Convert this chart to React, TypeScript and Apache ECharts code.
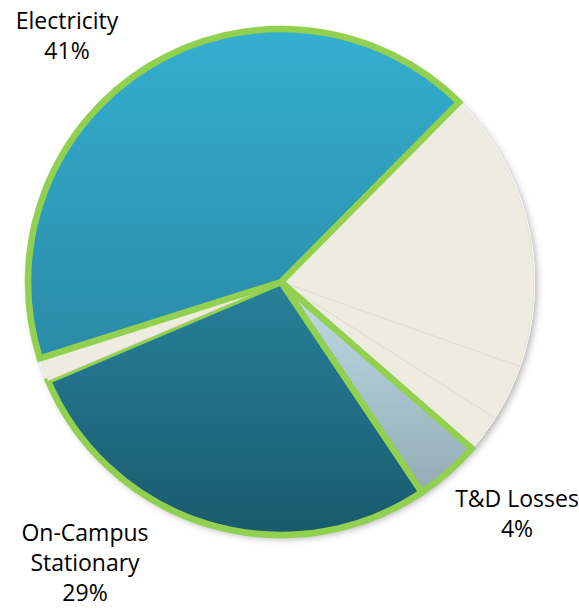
import React, { useEffect, useRef } from "react";
import * as echarts from "echarts";

// Slices listed clockwise, starting at the upper-right boundary of Electricity
const categories = [
  "Other 1",
  "Other 2",
  "Other 3",
  "T&D Losses",
  "On-Campus Stationary",
  "Other 4",
  "Electricity",
];
const values = [18.0, 3.6, 2.4, 4.2, 28.0, 1.5, 42.3];
const labelNames: Record<string, string> = {
  Electricity: "Electricity",
  "On-Campus Stationary": "On-Campus\nStationary",
  "T&D Losses": "T&D Losses",
};
const labelPercents: Record<string, string> = {
  Electricity: "41%",
  "On-Campus Stationary": "29%",
  "T&D Losses": "4%",
};

const GREEN = "#92d050";
const BEIGE = "#eeece1";

const labelPos: Record<string, [number, number]> = {
  Electricity: [67, 35],
  "On-Campus Stationary": [85, 562],
  "T&D Losses": [517, 513],
};

function styleFor(name: string) {
  if (name === "Electricity") {
    return {
      color: new echarts.graphic.LinearGradient(0, 0, 0, 1, [
        { offset: 0, color: "#34afd0" },
        { offset: 1, color: "#2a8aa7" },
      ]),
      borderColor: GREEN,
      borderWidth: 6.5,
      borderJoin: "miter",
    };
  }
  if (name === "On-Campus Stationary") {
    return {
      color: new echarts.graphic.LinearGradient(0, 0, 0, 1, [
        { offset: 0, color: "#27819a" },
        { offset: 1, color: "#195a6e" },
      ]),
      borderColor: GREEN,
      borderWidth: 6.5,
      borderJoin: "miter",
    };
  }
  if (name === "T&D Losses") {
    return {
      color: new echarts.graphic.LinearGradient(0, 0, 0, 1, [
        { offset: 0, color: "#c0dce7" },
        { offset: 1, color: "#93acb6" },
      ]),
      borderColor: GREEN,
      borderWidth: 6.5,
      borderJoin: "miter",
    };
  }
  return {
    color: BEIGE,
    borderColor: "#d6d4ca",
    borderWidth: 0.6,
  };
}

export default function App() {
  const ref = useRef<HTMLDivElement>(null);
  useEffect(() => {
    if (!ref.current) return;
    const chart = echarts.init(ref.current, undefined, { renderer: "svg" });
    const data = categories.map((name, i) => ({
      name,
      value: values[i],
      itemStyle: styleFor(name),
      label: labelNames[name]
        ? {
            show: true,
            formatter: labelNames[name] + "\n" + labelPercents[name],
          }
        : { show: false },
    }));
    chart.setOption({
      animation: false,
      backgroundColor: "#ffffff",
      series: [
        {
          type: "pie",
          silent: true,
          radius: 254,
          center: [281, 282],
          z: 1,
          label: { show: false },
          labelLine: { show: false },
          itemStyle: {
            color: "#ffffff",
            shadowBlur: 7,
            shadowColor: "rgba(0,0,0,0.3)",
            shadowOffsetX: 2,
            shadowOffsetY: 3,
          },
          data: [{ value: 1, name: "bg" }],
        },
        {
          type: "pie",
          radius: 253,
          center: [281, 282],
          startAngle: 45.3,
          clockwise: true,
          z: 2,
          avoidLabelOverlap: false,
          emphasis: { disabled: true },
          labelLine: { show: false },
          label: {
            position: "outside",
            fontFamily: "Open Sans",
            fontSize: 23,
            lineHeight: 30,
            color: "#000000",
            align: "center",
          },
          labelLayout: (params: any) => {
            const name = categories[params.dataIndex];
            const p = labelPos[name];
            if (!p) return {};
            return {
              x: p[0],
              y: p[1],
              align: "center",
              verticalAlign: "middle",
              hideOverlap: false,
            };
          },
          data,
        },
      ],
    });
    return () => chart.dispose();
  }, []);
  return (
    <div
      ref={ref}
      style={{ position: "fixed", left: 0, top: 0, width: 579, height: 609 }}
    />
  );
}
